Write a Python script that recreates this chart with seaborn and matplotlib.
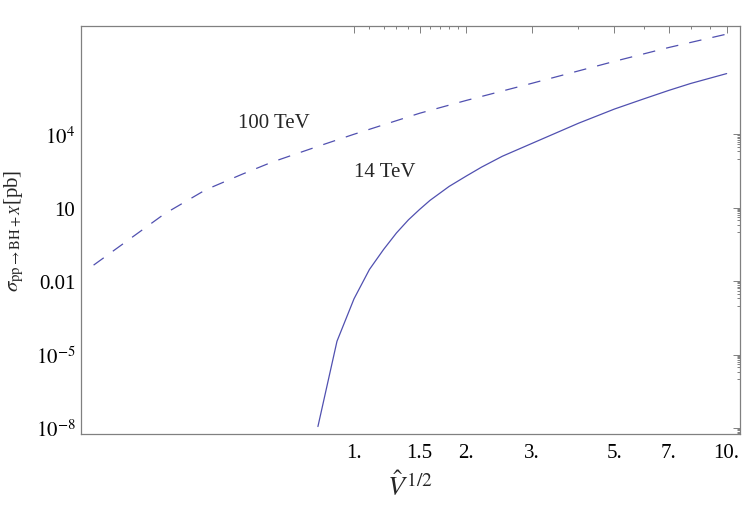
import matplotlib
matplotlib.use("Agg")
import matplotlib.pyplot as plt
import matplotlib.ticker as mticker
import numpy as np
import pandas as pd
import seaborn as sns

# ---------------------------------------------------------------------- #
# Data
# ---------------------------------------------------------------------- #
v_14 = [0.8, 0.9, 1.0, 1.1, 1.2, 1.3, 1.4, 1.5, 1.6, 1.8, 2.0, 2.2, 2.5,
        3.0, 4.0, 5.0, 6.0, 7.0, 8.0, 10.0]
sigma_14 = [1.15e-8, 3.5e-5, 1.9e-3, 3.0e-2, 0.195, 0.93, 3.2, 8.5, 20.0,
            74.0, 195.0, 455.0, 1260.0, 4200.0, 2.8e4, 1.07e5, 2.8e5,
            6.2e5, 1.18e6, 3.0e6]

v_100 = [0.2, 0.31, 0.4, 0.5, 0.6, 0.8, 1.0, 1.5, 2.0, 3.0, 5.0, 7.0, 10.0]
sigma_100 = [0.045, 5.6, 54.0, 230.0, 710.0, 3200.0, 1.0e4, 7.2e4, 2.4e5,
             1.2e6, 9.5e6, 3.5e7, 1.23e8]

x_major = [1.0, 1.5, 2.0, 3.0, 5.0, 7.0, 10.0]
x_major_labels = ["1.", "1.5", "2.", "3.", "5.", "7.", "10."]
x_minor = [1.1, 1.2, 1.3, 1.4, 1.6, 1.7, 1.8, 1.9, 4.0, 6.0, 8.0, 9.0]

y_major = [1e-8, 1e-5, 1e-2, 1e1, 1e4]
y_major_labels = [r"$10^{-8}$", r"$10^{-5}$", "0.01", "10", r"$10^{4}$"]

line_color = "#5050b0"
axis_color = "#808080"

# ---------------------------------------------------------------------- #
# Style
# ---------------------------------------------------------------------- #
sns.set_theme(style="white")
plt.rcParams["font.family"] = ["Liberation Serif", "DejaVu Serif"]
plt.rcParams["mathtext.fontset"] = "stix"

df14 = pd.DataFrame({"v": v_14, "sigma": sigma_14})
df100 = pd.DataFrame({"v": v_100, "sigma": sigma_100})

fig = plt.figure(figsize=(7.47, 5.10), dpi=100)
ax = fig.add_axes([0.1084, 0.148, 0.8822, 0.799])

sns.lineplot(data=df100, x="v", y="sigma", ax=ax, color=line_color,
             lw=0.9, sort=False)
ax.lines[-1].set_dashes((10, 9))
sns.lineplot(data=df14, x="v", y="sigma", ax=ax, color=line_color,
             lw=0.9, sort=False)

ax.set_xscale("log")
ax.set_yscale("log")
ax.set_xlim(0.185, 10.86)
ax.set_ylim(10 ** -8.225, 10 ** 8.42)

# ticks, Mathematica-like frame
ax.xaxis.set_major_locator(mticker.FixedLocator(x_major))
ax.xaxis.set_major_formatter(mticker.FixedFormatter(x_major_labels))
ax.xaxis.set_minor_locator(mticker.FixedLocator(x_minor))
ax.xaxis.set_minor_formatter(mticker.NullFormatter())

y_minor = [j * m / 10 for m in y_major for j in range(1, 10)]
ax.yaxis.set_major_locator(mticker.FixedLocator(y_major))
ax.yaxis.set_major_formatter(mticker.FixedFormatter(y_major_labels))
ax.yaxis.set_minor_locator(mticker.FixedLocator(y_minor))
ax.yaxis.set_minor_formatter(mticker.NullFormatter())

ax.tick_params(which="both", direction="in", top=True, right=True,
               color=axis_color, width=0.7, labelsize=15, labelcolor="black")
ax.tick_params(which="major", length=5)
ax.tick_params(which="minor", length=2.5)
ax.tick_params(axis="x", which="major", pad=7)
ax.tick_params(axis="y", which="major", pad=4)
for s in ax.spines.values():
    s.set_color(axis_color)
    s.set_linewidth(0.9)

ax.set_xlabel(r"$\hat{V}^{\,1/2}$", fontsize=20)
ax.xaxis.set_label_coords(0.5, -0.093)
ax.set_ylabel(r"$\sigma_{\mathrm{pp}\rightarrow\mathrm{BH}+X}$[pb]",
              fontsize=15)
ax.yaxis.set_label_coords(-0.084, 0.5)

ax.text(0.488, 3.1e4, "100 TeV", fontsize=15, va="center", ha="left")
ax.text(1.0, 310, "14 TeV", fontsize=15, va="center", ha="left")

fig.savefig("out.png", dpi=100)
